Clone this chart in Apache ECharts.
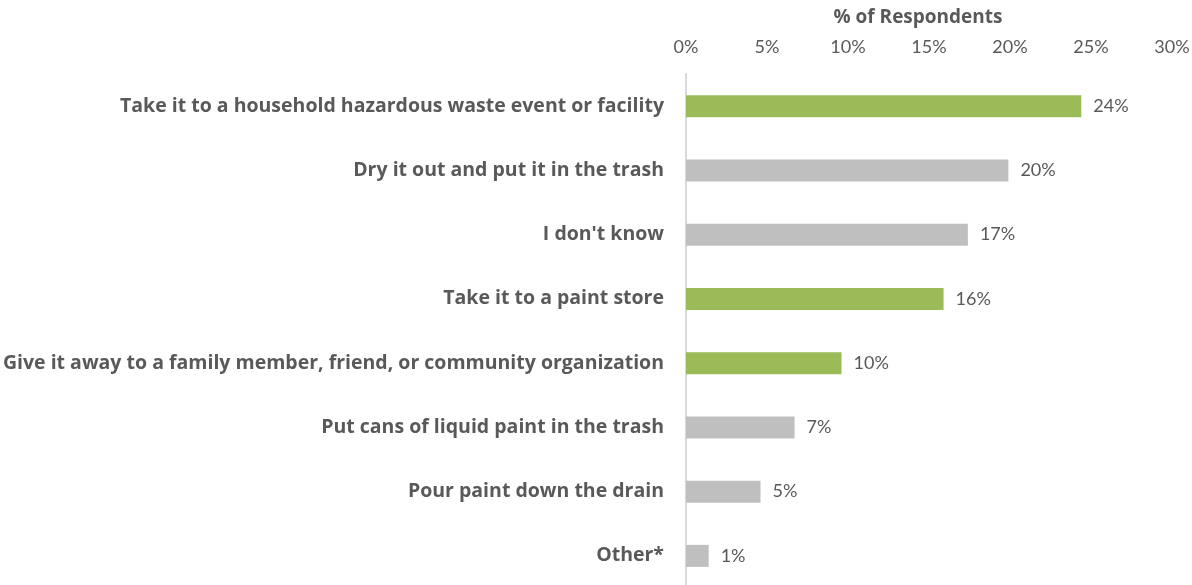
<!DOCTYPE html>
<html><head><meta charset="utf-8">
<script src="https://cdn.jsdelivr.net/npm/echarts@6/dist/echarts.min.js"></script>
<style>html,body{margin:0;padding:0;background:#fff}#c{width:1192px;height:585px}</style>
</head><body><div id="c"></div>
<script>
const categories = [
  "Take it to a household hazardous waste event or facility",
  "Dry it out and put it in the trash",
  "I don't know",
  "Take it to a paint store",
  "Give it away to a family member, friend, or community organization",
  "Put cans of liquid paint in the trash",
  "Pour paint down the drain",
  "Other*"
];
const values = [24.4, 19.9, 17.4, 15.9, 9.6, 6.7, 4.6, 1.4];
const labels = ["24%", "20%", "17%", "16%", "10%", "7%", "5%", "1%"];
const highlighted = [true, false, false, true, true, false, false, false];
const axisName = "% of Respondents";
const GREEN = "#9BBB59", GREY = "#BFBFBF";

const chart = echarts.init(document.getElementById('c'));
chart.setOption({
  animation: false,
  grid: {left: 686, right: 20, top: 74, height: 514, containLabel: false, outerBoundsMode: 'none'},
  xAxis: {
    type: 'value', position: 'top', min: 0, max: 30, interval: 5,
    name: axisName, nameLocation: 'middle', nameGap: 47,
    nameTextStyle: {color: '#595959', fontSize: 19, fontWeight: 'bold', fontFamily: 'Open Sans', padding: [0, 22, 0, 0]},
    axisLine: {show: false}, axisTick: {show: false}, splitLine: {show: false},
    axisLabel: {color: '#595959', fontSize: 18, fontFamily: 'Lato', margin: 18, formatter: v => v + '%'}
  },
  yAxis: {
    type: 'category', inverse: true, data: categories,
    axisLine: {show: true, lineStyle: {color: '#D9D9D9', width: 2}},
    axisTick: {show: false},
    axisLabel: {color: '#595959', fontSize: 19.5, fontWeight: 'bold', fontFamily: 'Open Sans', margin: 22}
  },
  series: [{
    type: 'bar', barWidth: 22,
    data: values.map((v, i) => ({value: v, itemStyle: {color: highlighted[i] ? GREEN : GREY}})),
    label: {show: true, position: 'right', distance: 12, color: '#595959', fontSize: 18, fontFamily: 'Lato',
      formatter: p => labels[p.dataIndex]}
  }]
});
</script></body></html>
